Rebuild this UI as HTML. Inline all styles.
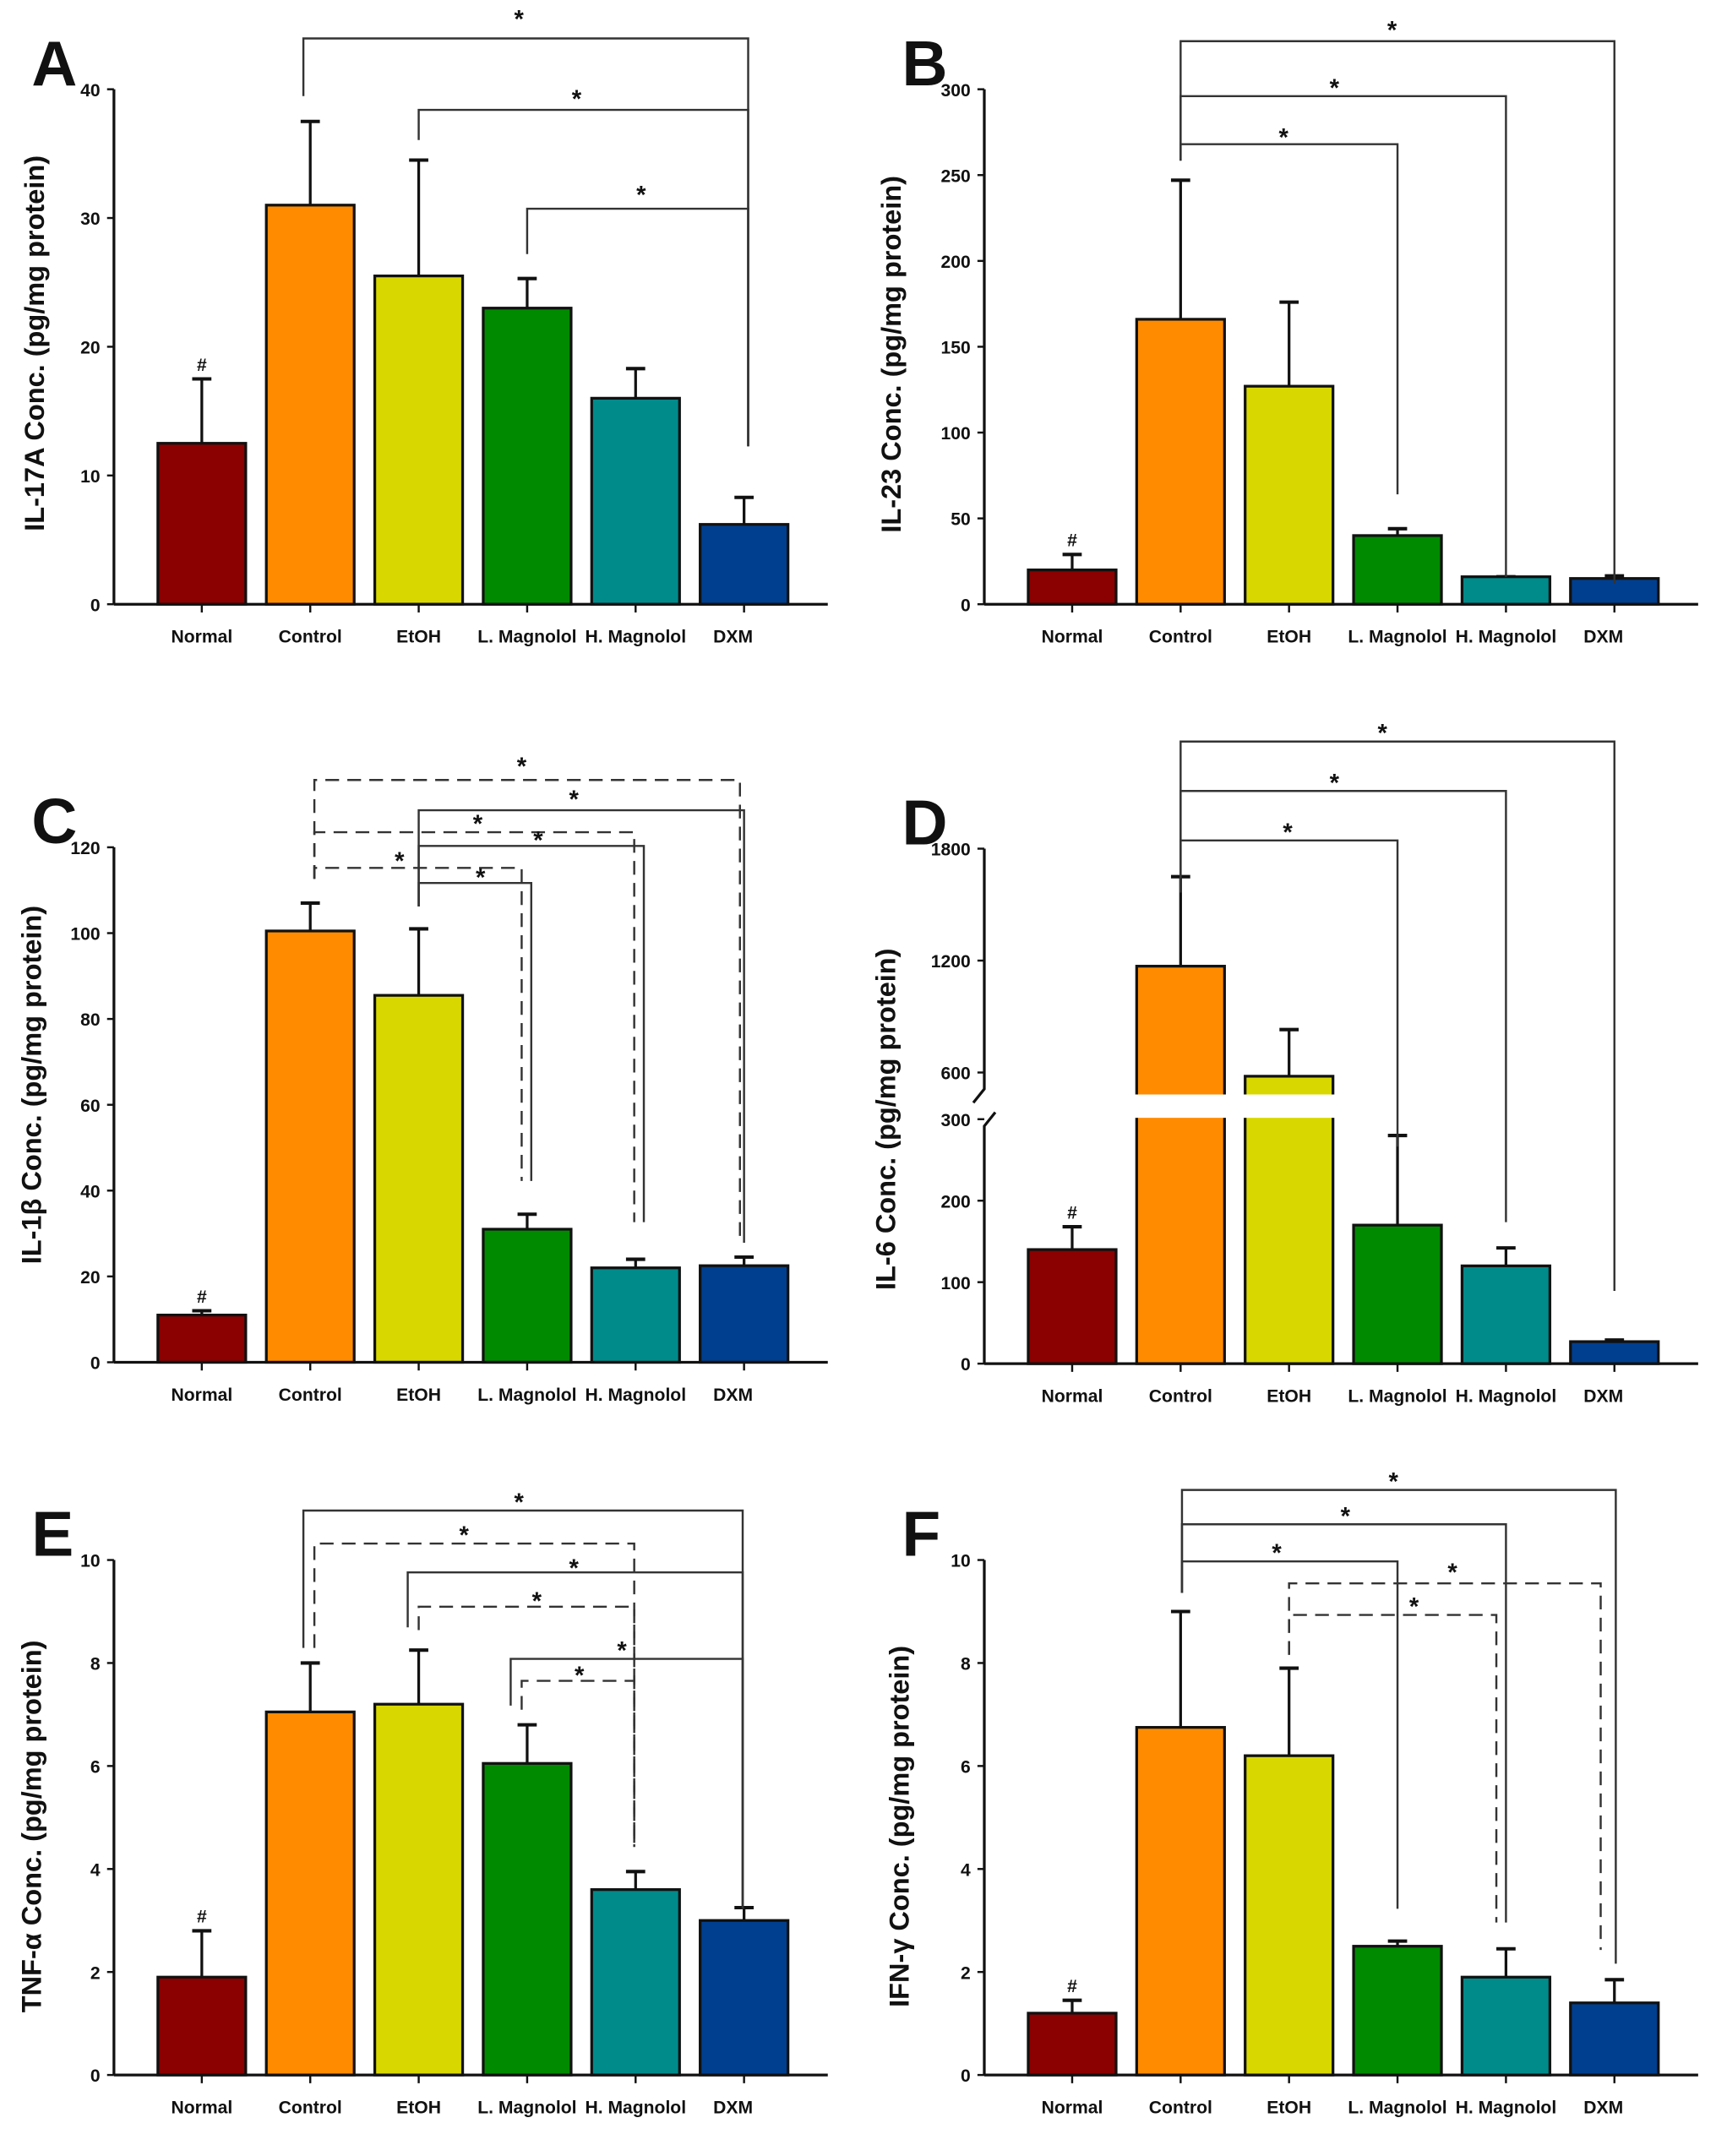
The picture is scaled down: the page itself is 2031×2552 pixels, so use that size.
<!DOCTYPE html>
<html><head><meta charset="utf-8"><style>
html,body{margin:0;padding:0;background:#fff}
svg{display:block}
text{font-family:"Liberation Sans",Arial,sans-serif;font-weight:bold;fill:#111}
</style></head><body>
<svg id="fig" width="2031" height="2552" viewBox="0 0 1250 1570" preserveAspectRatio="none" xmlns="http://www.w3.org/2000/svg"></svg>
<script>
const categories = ["Normal","Control","EtOH","L. Magnolol","H. Magnolol","DXM"];
const colors = ["#8b0000","#ff8c00","#d8d800","#008a00","#008b8b","#003f8f"];
const valsA = [12.5,31,25.5,23,16,6.2];
const errA  = [17.5,37.5,34.5,25.3,18.3,8.3];
const ticksA = [0,10,20,30,40];
const valsB = [20,166,127,40,16,15];
const errB  = [29,247,176,44,16,16.5];
const ticksB = [0,50,100,150,200,250,300];
const valsC = [11,100.5,85.5,31,22,22.5];
const errC  = [12,107,101,34.5,24,24.5];
const ticksC = [0,20,40,60,80,100,120];
const valsD = [140,1170,580,170,120,27];
const errD  = [168,1650,830,280,142,29];
const ticksD = [0,100,200,300,600,1200,1800];
const valsE = [1.9,7.05,7.2,6.05,3.6,3.0];
const errE  = [2.8,8.0,8.25,6.8,3.95,3.25];
const ticksE = [0,2,4,6,8,10];
const valsF = [1.2,6.75,6.2,2.5,1.9,1.4];
const errF  = [1.45,9.0,7.9,2.6,2.45,1.85];
const ticksF = [0,2,4,6,8,10];

const NS="http://www.w3.org/2000/svg";
const svg=document.getElementById('fig');
function mk(tag,attrs,parent){const e=document.createElementNS(NS,tag);for(const k in attrs)e.setAttribute(k,attrs[k]);(parent||svg).appendChild(e);return e;}
function txt(s,attrs,parent){const e=mk('text',attrs,parent);e.textContent=s;return e;}

function panel(p){
  const g=mk('g',{});
  
  
  const y=p.scale;
  const xc=i=>p.ax+64+i*79;
  const L=txt(p.letter,{x:p.ax-60,y:p.y0-378,'font-size':46},g);
  
  
  p.vals.forEach((v,i)=>{
    const top=y(v);
    const eb=mk('line',{x1:xc(i),x2:xc(i),y1:top,y2:y(p.err[i]),stroke:'#111','stroke-width':2},g);
    
    
    mk('line',{x1:xc(i)-7,x2:xc(i)+7,y1:y(p.err[i]),y2:y(p.err[i]),stroke:'#111','stroke-width':2.5},g);
    const r=mk('rect',{x:xc(i)-32,y:top,width:64,height:p.y0-top,fill:colors[i],stroke:'#111','stroke-width':2},g);
    
    
    const c=txt(categories[i],{x:xc(i)-(i==5?8:0),y:p.y0+28,'font-size':13,'text-anchor':'middle'},g);
    
    
    mk('line',{x1:xc(i),x2:xc(i),y1:p.y0,y2:p.y0+6,stroke:'#111','stroke-width':1.5},g);
  });
  if(p.gap){const gp=mk('rect',{x:p.ax+90,y:p.gap[0],width:170,height:p.gap[1]-p.gap[0],fill:'#fff'},g);
    }
  const ya=mk('path',{d:p.axisPath,stroke:'#111','stroke-width':2,fill:'none'},g);
  
  const xa=mk('line',{x1:p.ax,x2:p.ax+520,y1:p.y0,y2:p.y0,stroke:'#111','stroke-width':2},g);
  
  p.ticks.forEach(t=>{
    mk('line',{x1:p.ax-5,x2:p.ax,y1:y(t),y2:y(t),stroke:'#111','stroke-width':1.5},g);
    const tl=txt(String(t),{x:p.ax-10,y:y(t)+5,'font-size':13,'text-anchor':'end'},g);
    
  });
  const yt=txt(p.title,{x:0,y:0,'font-size':20,'text-anchor':'middle',transform:`translate(${p.tx},${p.ty}) rotate(-90)`},g);
  
  p.br.forEach(b=>{
    const [fi,ti,yl,yf,yt2,dash,sx,sy,fo,to]=b;
    const x1=xc(fi)+(fo||0), x2=xc(ti)+(to||0);
    const pa=mk('path',{d:`M${x1} ${yf} L${x1} ${yl} L${x2} ${yl} L${x2} ${yt2}`,stroke:'#333','stroke-width':1.5,fill:'none','stroke-dasharray':dash?'10 6':'none'},g);
    
    const st=txt('*',{x:sx,y:sy+8,'font-size':18,'text-anchor':'middle'},g);
    
  });
  const h=txt('#',{x:xc(0),y:y(p.err[0])-6,'font-size':13,'text-anchor':'middle'},g);
  
}
function lin(y0,yt,max){return v=>y0-(v/max)*(y0-yt);}
const LX=83, RX=717;
panel({letter:'A',ax:LX,y0:440,scale:lin(440,65,40),vals:valsA,err:errA,ticks:ticksA,
  axisPath:`M${LX} 65 L${LX} 440`,title:'IL-17A Conc. (pg/mg protein)',tx:32,ty:250,
  br:[[1,5,28,70,325,false,378,12,-5,3],[2,5,80,102,325,false,420,70,0,3],[3,5,152,185,325,false,467,140,0,3]]});
panel({letter:'B',ax:RX,y0:440,scale:lin(440,65,300),vals:valsB,err:errB,ticks:ticksB,
  axisPath:`M${RX} 65 L${RX} 440`,title:'IL-23 Conc. (pg/mg protein)',tx:656,ty:258,
  br:[[1,5,30,117,425,false,1014,20,0,0],[1,4,70,117,420,false,972,62,0,0],[1,3,105,117,360,false,935,98,0,0]]});
panel({letter:'C',ax:LX,y0:992,scale:lin(992,617,120),vals:valsC,err:errC,ticks:ticksC,
  axisPath:`M${LX} 617 L${LX} 992`,title:'IL-1β Conc. (pg/mg protein)',tx:30,ty:790,
  br:[[1,5,568,640,905,true,380,556,3,-3],[2,5,590,660,905,false,418,580,0,0],[1,4,606,640,890,true,348,598,3,-1],
      [2,4,616,660,890,false,392,610,0,6],[1,3,632,640,860,true,291,625,3,-4],[2,3,643,660,860,false,350,637,0,3]]});
const dScale=v=> v<=300 ? 993-v*(178/300) : 781-(v-600)*(163/1200);
panel({letter:'D',ax:RX,y0:993,scale:dScale,vals:valsD,err:errD,ticks:ticksD,gap:[797,814],
  axisPath:`M${RX} 618 L${RX} 793 L${RX-8} 803 M${RX+8} 810 L${RX} 820 L${RX} 993`,title:'IL-6 Conc. (pg/mg protein)',tx:652,ty:815,
  br:[[1,5,540,650,940,false,1007,532,0,0],[1,4,576,650,890,false,972,568,0,0],[1,3,612,650,835,false,938,604,0,0]]});
panel({letter:'E',ax:LX,y0:1511,scale:lin(1511,1136,10),vals:valsE,err:errE,ticks:ticksE,
  axisPath:`M${LX} 1136 L${LX} 1511`,title:'TNF-α  Conc. (pg/mg protein)',tx:30,ty:1330,
  br:[[1,5,1100,1200,1390,false,378,1092,-5,-1],[1,4,1124,1200,1345,true,338,1116,3,-1],[2,5,1145,1185,1390,false,418,1140,-8,-1],
      [2,4,1170,1187,1345,true,391,1164,0,-1],[3,5,1208,1242,1390,false,453,1200,-12,-1],[3,4,1224,1245,1345,true,422,1218,-4,-1]]});
panel({letter:'F',ax:RX,y0:1511,scale:lin(1511,1136,10),vals:valsF,err:errF,ticks:ticksF,
  axisPath:`M${RX} 1136 L${RX} 1511`,title:'IFN-γ  Conc. (pg/mg protein)',tx:662,ty:1330,
  br:[[1,5,1085,1160,1430,false,1015,1077,1,1],[1,4,1110,1160,1400,false,980,1102,1,0],[1,3,1137,1160,1390,false,930,1129,1,0],
      [2,5,1153,1205,1420,true,1058,1143,0,-10],[2,4,1176,1205,1400,true,1030,1168,0,-7]]});
</script>
</body></html>
